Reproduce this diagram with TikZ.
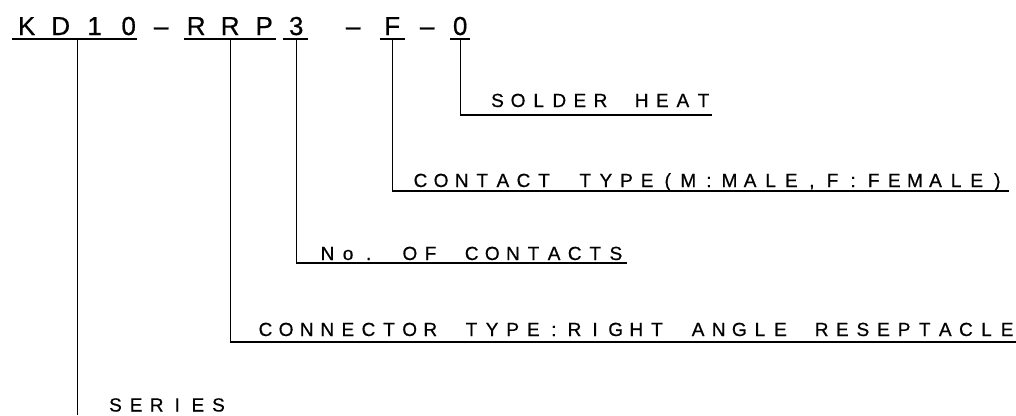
\documentclass[tikz,border=0pt]{standalone}
\usepackage{fontspec}
\setmainfont{Liberation Sans}
\newfontfamily\cadfont[FakeBold=0.6]{Liberation Sans}
\newlength\cadpitch
\newcommand\cadtext[2]{\setlength\cadpitch{#1}\cadloop#2\relax}
\def\cadloop#1{\ifx\relax#1\else\makebox[\cadpitch][c]{#1}\expandafter\cadloop\fi}
\tikzset{
  title/.style={anchor=base west,inner sep=0pt,font=\cadfont\fontsize{26}{28}\selectfont},
  label/.style={anchor=base west,inner sep=0pt,font=\cadfont\fontsize{19}{21}\selectfont},
  leader/.style={line width=1.3pt,black},
}
\begin{document}
\begin{tikzpicture}[x=1pt,y=-1pt]
\useasboundingbox (0,0) rectangle (1016,415);
% title segments
\node[title] (kd)   at (9.5,35) {\cadtext{34pt}{KD10}};
\node[title] (d1)   at (144,35) {\cadtext{34pt}{–}};
\node[title] (rrp)  at (179,35) {\cadtext{34pt}{RRP}};
\node[title] (n3)   at (279,35) {\cadtext{34pt}{3}};
\node[title] (d2)   at (336,35) {\cadtext{34pt}{–}};
\node[title] (ff)   at (375,35) {\cadtext{34pt}{F}};
\node[title] (d3)   at (410,35) {\cadtext{34pt}{–}};
\node[title] (zero) at (443,35) {\cadtext{34pt}{0}};
% underlines of the title
\draw[leader] (12,39) -- (137,39);
\draw[leader] (184,39) -- (276,39);
\draw[leader] (283,39) -- (308,39);
\draw[leader] (380,39) -- (405,39);
\draw[leader] (450,39) -- (470,39);
% labels
\node[label] (solder)  at (487,107) {\cadtext{20.6pt}{SOLDER~HEAT}};
\node[label] (contact) at (410,187) {\cadtext{20.6pt}{CONTACT~TYPE(M:MALE,F:FEMALE)}};
\node[label] (nocon)   at (317,260) {\cadtext{20.6pt}{No.~OF~CONTACTS}};
\node[label] (conn)    at (255,336) {\cadtext{20.6pt}{CONNECTOR~TYPE:RIGHT~ANGLE~RESEPTACLE}};
\node[label] (series)  at (105,411.5) {\cadtext{20.6pt}{SERIES}};
% leader end points
\coordinate (zeroU) at (zero.south |- 0,39);
\coordinate (fU)    at (ff.south |- 0,39);
\coordinate (n3U)   at (n3.south |- 0,39);
\coordinate (rrpU)  at (rrp.south |- 0,39);
\coordinate (kdU)   at (kd.south |- 0,39);
\coordinate (solderE)  at (712,115);
\coordinate (contactE) at (1009,191);
\coordinate (noconE)   at (627,263);
\coordinate (connE)    at (1016,342);
\coordinate (seriesE)  at (kd.south |- 0,415);
% leaders
\draw[leader] (zeroU) |- (solderE);
\draw[leader] (fU) |- (contactE);
\draw[leader] (n3U) |- (noconE);
\draw[leader] (rrpU) |- (connE);
\draw[leader] (kdU) -- (seriesE);
\end{tikzpicture}
\end{document}
